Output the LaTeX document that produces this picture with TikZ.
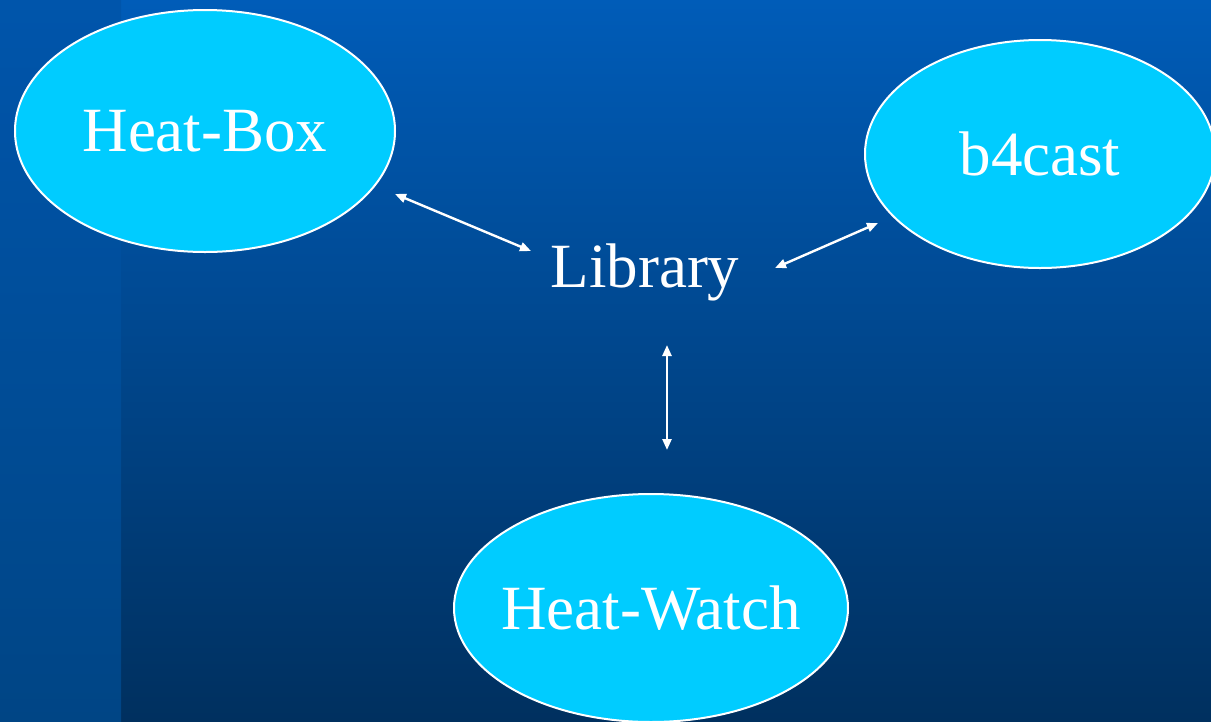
\documentclass[tikz,border=0pt]{standalone}
\usepackage{fontspec}
\setmainfont{Liberation Serif}
\usetikzlibrary{arrows.meta, shapes.geometric}
\usepackage{xcolor}

\definecolor{bgtop}{HTML}{005CB8}
\definecolor{bgbot}{HTML}{00305F}
\definecolor{striptop}{HTML}{0055AB}
\definecolor{stripbot}{HTML}{004585}
\definecolor{bubble}{HTML}{00CCFF}

\begin{document}
\begin{tikzpicture}[
    x=1pt, y=-1pt,
    bubble/.style={ellipse, draw=white, line width=2pt, fill=bubble, inner sep=0pt, text=white, font=\fontsize{63}{70}\selectfont},
    label/.style={text=white, font=\fontsize{63}{70}\selectfont},
    arrow/.style={{Triangle[length=11pt,width=9pt]}-{Triangle[length=11pt,width=9pt]}, white, line width=2.4pt}
]

% Background
\useasboundingbox (0,0) rectangle (1211,721);
\shade[top color=bgtop, bottom color=bgbot] (0,0) rectangle (1211,721);
\shade[top color=striptop, bottom color=stripbot] (0,0) rectangle (121,721);

% Nodes
\node[bubble, minimum width=380pt, minimum height=242pt] (heatbox) at (205,131) {Heat-Box};
\node[bubble, minimum width=350pt, minimum height=228pt] (bcast) at (1040,154) {b4cast};
\node[bubble, inner xsep=-15pt, minimum width=394pt, minimum height=228pt] (heatwatch) at (651,608) {Heat-Watch};
\node[label] (library) at (645,272) {Library};

% Arrow ends
\coordinate (hbend) at (395,194);
\coordinate (libleft) at (531,251);
\coordinate (libright) at (775,268);
\coordinate (bcend) at (878,223);
\coordinate (libbottom) at (667,345);
\coordinate (hwend) at (667,450);

% Arrows
\draw[arrow] (hbend) -- (libleft);
\draw[arrow] (libright) -- (bcend);
\draw[arrow] (libbottom) -- (hwend);

\end{tikzpicture}
\end{document}
